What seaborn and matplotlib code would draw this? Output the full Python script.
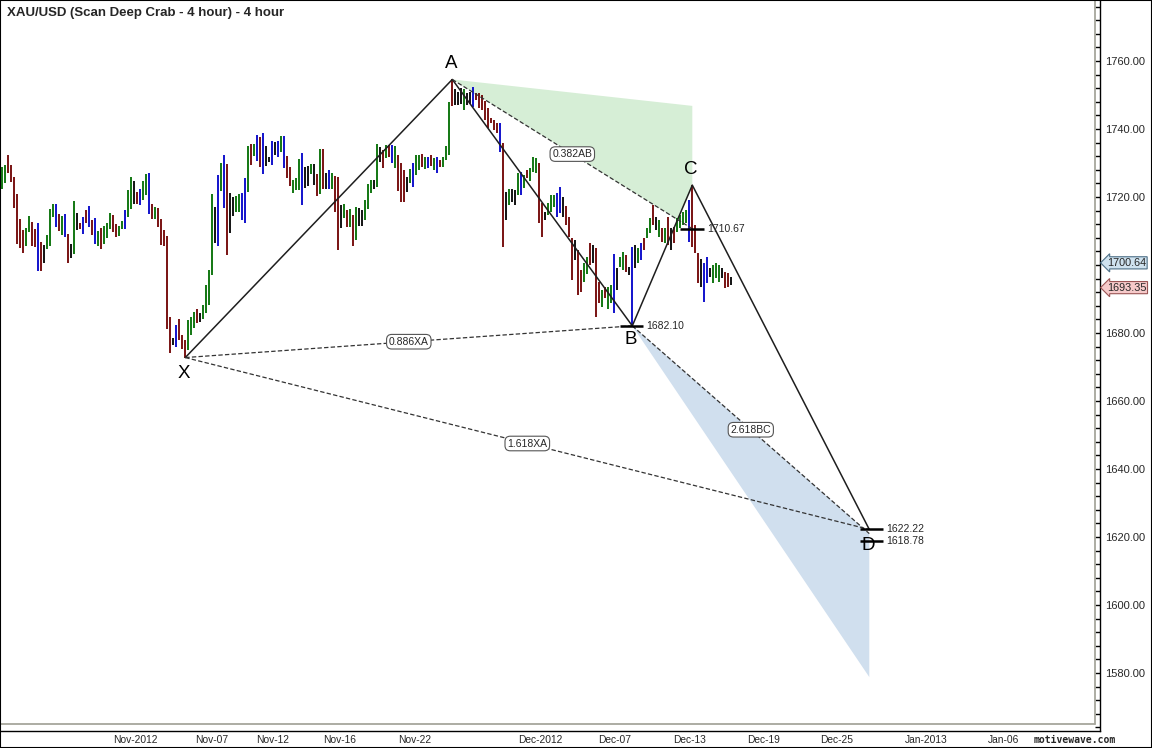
import numpy as np
import pandas as pd
import matplotlib
matplotlib.use('Agg')
import matplotlib.pyplot as plt
from matplotlib.patches import Polygon, Rectangle
from matplotlib.ticker import MultipleLocator
import seaborn as sns

# ---- 4 hour XAU/USD bars (high / low / bar colour) ----
bar_high = [
    1728.7, 1729.4, 1732.4, 1729.4, 1725.9, 1720.8, 1713.5, 1710.3, 1711.0, 1714.4,
    1712.7, 1710.6, 1712.5, 1706.8, 1705.9, 1708.8, 1716.5, 1717.9, 1717.9, 1715.0,
    1714.4, 1715.0, 1709.1, 1706.1, 1718.9, 1715.3, 1712.3, 1714.2, 1716.2, 1717.3,
    1713.2, 1713.9, 1710.0, 1711.0, 1711.6, 1712.5, 1715.3, 1714.7, 1712.1, 1711.6,
    1712.9, 1716.2, 1722.1, 1725.9, 1724.7, 1721.6, 1722.5, 1724.7, 1726.7, 1727.1,
    1717.9, 1717.0, 1716.9, 1713.5, 1710.3, 1708.5, 1684.6, 1678.6, 1682.4, 1684.1,
    1679.4, 1677.9, 1683.8, 1684.8, 1686.3, 1687.2, 1686.0, 1688.2, 1694.1, 1698.5,
    1720.9, 1717.0, 1726.5, 1729.9, 1732.4, 1729.7, 1721.3, 1719.9, 1720.3, 1720.9,
    1721.3, 1725.7, 1735.0, 1735.6, 1735.6, 1738.2, 1737.7, 1738.7, 1735.0, 1731.7,
    1736.5, 1736.1, 1736.5, 1737.9, 1737.9, 1732.1, 1728.9, 1725.0, 1725.7, 1731.2,
    1733.0, 1728.9, 1729.2, 1729.7, 1729.6, 1726.8, 1734.0, 1734.0, 1727.2, 1728.0,
    1727.0, 1726.2, 1725.8, 1717.7, 1717.9, 1716.2, 1716.4, 1714.7, 1717.0, 1716.7,
    1716.2, 1719.1, 1723.7, 1725.0, 1725.0, 1735.6, 1734.8, 1733.8, 1735.3, 1735.3,
    1735.3, 1735.1, 1732.4, 1729.9, 1728.0, 1726.0, 1728.2, 1729.9, 1732.4, 1732.4,
    1732.6, 1731.9, 1731.9, 1732.4, 1731.4, 1731.9, 1730.9, 1731.9, 1735.0, 1748.0,
    1754.58, 1751.8, 1751.0, 1752.0, 1751.8, 1750.5, 1751.0, 1752.3, 1750.5, 1750.5,
    1750.0, 1748.2, 1746.1, 1743.1, 1742.6, 1741.7, 1741.9, 1735.8, 1721.6, 1722.5,
    1722.5, 1722.1, 1727.0, 1727.4, 1726.5, 1728.0, 1728.4, 1731.9, 1731.4, 1729.9,
    1718.1, 1715.7, 1718.1, 1720.6, 1720.6, 1721.1, 1722.8, 1720.1, 1717.3, 1714.2,
    1707.8, 1707.3, 1704.4, 1698.5, 1700.5, 1702.4, 1706.6, 1705.9, 1704.9, 1695.1,
    1692.6, 1693.6, 1693.6, 1694.1, 1703.2, 1699.0, 1702.4, 1703.9, 1702.9, 1699.5,
    1705.4, 1705.9, 1704.9, 1706.4, 1707.8, 1710.8, 1713.7, 1717.6, 1714.2, 1713.2,
    1710.8, 1710.8, 1714.2, 1710.8, 1711.3, 1713.7, 1714.7, 1715.7, 1716.2, 1719.1,
    1723.5, 1711.8, 1703.4, 1701.9, 1700.5, 1702.4, 1699.0, 1700.0, 1700.5, 1700.0,
    1699.0, 1698.0, 1697.6, 1696.6,
]
bar_low = [
    1722.5, 1724.2, 1727.2, 1724.5, 1716.7, 1706.1, 1704.9, 1703.6, 1705.7, 1709.8,
    1705.7, 1705.4, 1698.3, 1698.3, 1700.7, 1704.6, 1705.7, 1714.0, 1711.3, 1710.1,
    1708.8, 1708.3, 1700.7, 1702.0, 1703.1, 1710.4, 1710.5, 1709.1, 1712.5, 1711.3,
    1708.8, 1706.1, 1705.7, 1704.7, 1706.2, 1708.0, 1710.6, 1709.6, 1708.3, 1708.6,
    1710.6, 1710.6, 1714.0, 1716.4, 1717.9, 1717.9, 1717.6, 1719.1, 1720.6, 1715.0,
    1713.5, 1713.5, 1711.3, 1705.9, 1705.7, 1681.2, 1674.2, 1676.5, 1676.0, 1677.9,
    1675.3, 1672.78, 1675.0, 1679.4, 1681.6, 1683.0, 1683.3, 1684.0, 1686.0, 1688.2,
    1697.2, 1706.4, 1705.6, 1721.8, 1716.9, 1702.9, 1709.3, 1714.5, 1715.7, 1715.5,
    1713.2, 1712.5, 1721.6, 1729.4, 1732.1, 1730.7, 1728.9, 1726.8, 1729.2, 1730.2,
    1729.4, 1732.4, 1731.9, 1733.3, 1728.4, 1725.5, 1723.2, 1721.3, 1722.1, 1722.1,
    1717.6, 1722.7, 1723.3, 1726.7, 1723.5, 1720.3, 1720.9, 1722.5, 1722.5, 1722.5,
    1722.5, 1715.7, 1704.4, 1710.8, 1713.9, 1711.3, 1711.3, 1705.6, 1707.4, 1711.5,
    1711.5, 1713.2, 1716.4, 1721.1, 1722.5, 1723.0, 1730.4, 1728.6, 1731.4, 1731.9,
    1729.9, 1728.4, 1721.8, 1718.6, 1718.6, 1721.6, 1724.0, 1723.0, 1726.5, 1728.0,
    1728.9, 1728.2, 1728.4, 1729.2, 1728.0, 1727.2, 1728.9, 1728.9, 1730.9, 1732.4,
    1746.9, 1747.1, 1747.1, 1747.3, 1745.6, 1747.1, 1747.5, 1746.6, 1748.5, 1746.1,
    1745.6, 1742.6, 1740.2, 1741.7, 1739.7, 1738.7, 1733.3, 1705.4, 1713.2, 1717.6,
    1718.6, 1717.6, 1720.6, 1720.6, 1722.7, 1725.5, 1724.7, 1727.4, 1727.0, 1712.3,
    1708.3, 1713.2, 1714.7, 1715.7, 1717.1, 1714.2, 1715.2, 1714.2, 1711.8, 1708.3,
    1695.6, 1701.5, 1691.2, 1692.2, 1695.1, 1697.5, 1700.0, 1700.5, 1684.8, 1688.7,
    1687.7, 1690.2, 1687.2, 1688.7, 1685.8, 1692.6, 1699.5, 1698.5, 1698.0, 1697.1,
    1682.10, 1699.0, 1700.5, 1701.5, 1704.4, 1707.8, 1709.3, 1711.8, 1710.3, 1708.3,
    1706.9, 1706.4, 1705.9, 1704.4, 1706.4, 1709.8, 1710.8, 1711.8, 1712.3, 1706.9,
    1705.4, 1703.4, 1694.6, 1693.6, 1689.2, 1694.6, 1696.6, 1694.6, 1696.1, 1695.1,
    1696.1, 1693.1, 1693.6, 1694.1,
]
bar_color = list(
    "ggrrrrrrgg" "rrbrkgggbr" "gbrkgkrbrb" "rbgrgggrrg" "gbggkrbggb"
    "rgrrrrrkbr" "rrgggrkggg" "gkbgbrkkgg" "bbgrgbrbkk" "bkbgbrrggg"
    "bkkgkrgrkb" "grrkgrgrgk" "kgggkgkrgr" "bgrrrkgbgg" "rgbrgbrggg"
    "rkkkgkkbrr" "rrrrrrbrkg" "kkgbgrgggr" "rkgggbbkrr" "rkrrggrkrr"
    "grggbkggrk" "bkgbrggrkg" "rgrkrggggb" "rrrkbbkggg" "krrk"
)

# ---- deep crab pattern (bar index, price) ----
point_names = ['X', 'A', 'B', 'C', 'D']
point_idx = [61, 150, 210, 230, 289]
point_price = [1672.78, 1754.58, 1682.10, 1723.50, 1622.22]

level_ab = 1710.67        # 0.382AB level at C
c_zone_top = 1746.8       # top of the C zone (green)
bc_end_price = 1621.0     # end of 2.618BC projection
level_bc = 1618.78
d_zone_low = 1578.8       # bottom of the D zone (blue)

last_prices = [1700.64, 1693.35]

price_ticks = [1580, 1600, 1620, 1640, 1660, 1680, 1700, 1720, 1740, 1760]
date_tick_pos = [44.2, 69.9, 90.2, 112.6, 137.6, 179.2, 204.2, 229.2,
                 253.9, 278.2, 307.9, 333.6, 355.9]
date_tick_labels = ['Nov-2012', 'Nov-07', 'Nov-12', 'Nov-16', 'Nov-22',
                    'Dec-2012', 'Dec-07', 'Dec-13', 'Dec-19', 'Dec-25',
                    'Jan-2013', 'Jan-06', '']

# ---- style ----
sns.set_style('white')
plt.rcParams['font.family'] = ['Liberation Sans', 'DejaVu Sans']
col_map = {'g': '#006c00', 'r': '#6e0000', 'b': '#0000c8', 'k': '#000000'}
line_col = '#1e1e1e'

fig = plt.figure(figsize=(11.52, 7.48), dpi=100)
ax = fig.add_axes([1 / 1152, 17 / 748, 1099 / 1152, 730 / 748])
ax.set_xlim(-0.43, 365.9)
ax.set_ylim(1562.94, 1777.65)

bars = pd.DataFrame({'idx': np.arange(len(bar_high)), 'high': bar_high,
                     'low': bar_low, 'col': bar_color})
pts = pd.DataFrame({'name': point_names, 'idx': point_idx, 'price': point_price})
P = {n: np.array([i, p]) for n, i, p in zip(point_names, point_idx, point_price)}

# end points of the ratio projections
ab_end = np.array([P['C'][0], level_ab])
bc_end = np.array([P['D'][0], bc_end_price])

# C zone: clipped by the B-C leg
dA = ab_end - P['A']
dB = P['C'] - P['B']
t = np.linalg.solve(np.column_stack([dA, -dB]), P['B'] - P['A'])[0]
cross = P['A'] + t * dA
ax.add_patch(Polygon([P['A'], (P['C'][0], c_zone_top), P['C'], cross],
                     closed=True, fc='#d6eed6', ec='none', zorder=1))
# D zone
ax.add_patch(Polygon([P['B'], bc_end, (P['D'][0], d_zone_low)],
                     closed=True, fc='#d0dfee', ec='none', zorder=1))

# price bars
for c, grp in bars.groupby('col'):
    ax.vlines(grp['idx'], grp['low'], grp['high'], colors=col_map[c], lw=1.3, zorder=2)

# XABCD legs
sns.lineplot(data=pts, x='idx', y='price', sort=False, estimator=None,
             color=line_col, linewidth=1.1, ax=ax, zorder=4)

# ratio lines and their labels
ratio_lines = [(P['A'], ab_end, '0.382AB'), (P['X'], P['B'], '0.886XA'),
               (P['X'], P['D'], '1.618XA'), (P['B'], bc_end, '2.618BC')]
for p0, p1, txt in ratio_lines:
    ax.plot([p0[0], p1[0]], [p0[1], p1[1]], color='#333333', lw=0.9,
            dashes=(3.5, 1.8), zorder=4)
    mid = (p0 + p1) / 2
    ax.text(mid[0], mid[1], txt, fontsize=7.5, ha='center', va='center', zorder=6,
            bbox=dict(boxstyle='round,pad=0.22,rounding_size=0.5', fc='white',
                      ec='#555555', lw=0.8))

# level markers
markers = [(206.0, 213.5, 1682.10), (226.0, 234.0, level_ab),
           (285.9, 293.5, 1622.22), (286.0, 293.5, level_bc)]
for x0, x1, lvl in markers:
    ax.hlines(lvl, x0, x1, colors='black', lw=1.8, zorder=5)
    ax.text(x1 + 1.0, lvl, f'{lvl:.2f}', fontsize=7.5, ha='left', va='center', zorder=6)

# point letters
letter_off = {'X': -11.5, 'A': 11.5, 'B': -9.5, 'C': 11, 'D': -11.5}
for n in point_names:
    ax.annotate(n, xy=P[n], xytext=(-1, letter_off[n]), textcoords='offset points',
                ha='center', va='center', fontsize=13.5, color='black', zorder=6)

# plot frame: grey inner border, black axis lines
x_in = (1095 - 2.3) / 3
y_in = 1565.0
ax.plot([x_in, x_in], [y_in, 1777.65], color='#a6a69c', lw=1.3, zorder=3)
ax.plot([-0.43, x_in], [y_in, y_in], color='#a6a69c', lw=1.3, zorder=3)
for s in ['left', 'top']:
    ax.spines[s].set_visible(False)
for s in ['right', 'bottom']:
    ax.spines[s].set_color('black')
    ax.spines[s].set_linewidth(1.0)

# price axis; the 1700 label sits under the last-price tag, so leave it blank
ax.yaxis.tick_right()
ax.set_yticks(price_ticks)
ax.set_yticklabels(['' if v == 1700 else f'{v:.2f}' for v in price_ticks])
ax.yaxis.set_minor_locator(MultipleLocator(4))
ax.tick_params(axis='y', which='both', direction='in', length=3.5, width=1,
               color='black', pad=4, labelsize=8)
ax.set_xticks(date_tick_pos)
ax.set_xticklabels(date_tick_labels)
ax.tick_params(axis='x', direction='in', length=5, width=1, color='black',
               pad=3, labelsize=7.4)
ax.set_xlabel('')
ax.set_ylabel('')
ax.grid(False)

# last price tags on the price axis
tag_styles = [('#cfe2ef', '#4d6f86'), ('#f6caca', '#9a5555')]
for p, (fc, ec) in zip(last_prices, tag_styles):
    ax.annotate(f'{p:.2f}', xy=(1.0, p), xycoords=('axes fraction', 'data'),
                xytext=(5, 0), textcoords='offset points', ha='left', va='center',
                fontsize=7.8, annotation_clip=False,
                bbox=dict(boxstyle='larrow,pad=0.1', fc=fc, ec=ec, lw=0.8))

fig.text(7 / 1152, 1 - 13 / 748, 'XAU/USD (Scan Deep Crab - 4 hour) - 4 hour',
         fontsize=9.5, fontweight='bold', ha='left', va='center')
fig.text(1075 / 1152, 1 - 740 / 748, 'motivewave.com', fontsize=7,
         fontweight='bold', family=['DejaVu Sans Mono'], ha='center', va='center')
fig.patches.append(Rectangle((0, 0), 1, 1, transform=fig.transFigure, fill=False,
                             ec='black', lw=1.5))

fig.savefig('out.png', dpi=100, facecolor='white')
